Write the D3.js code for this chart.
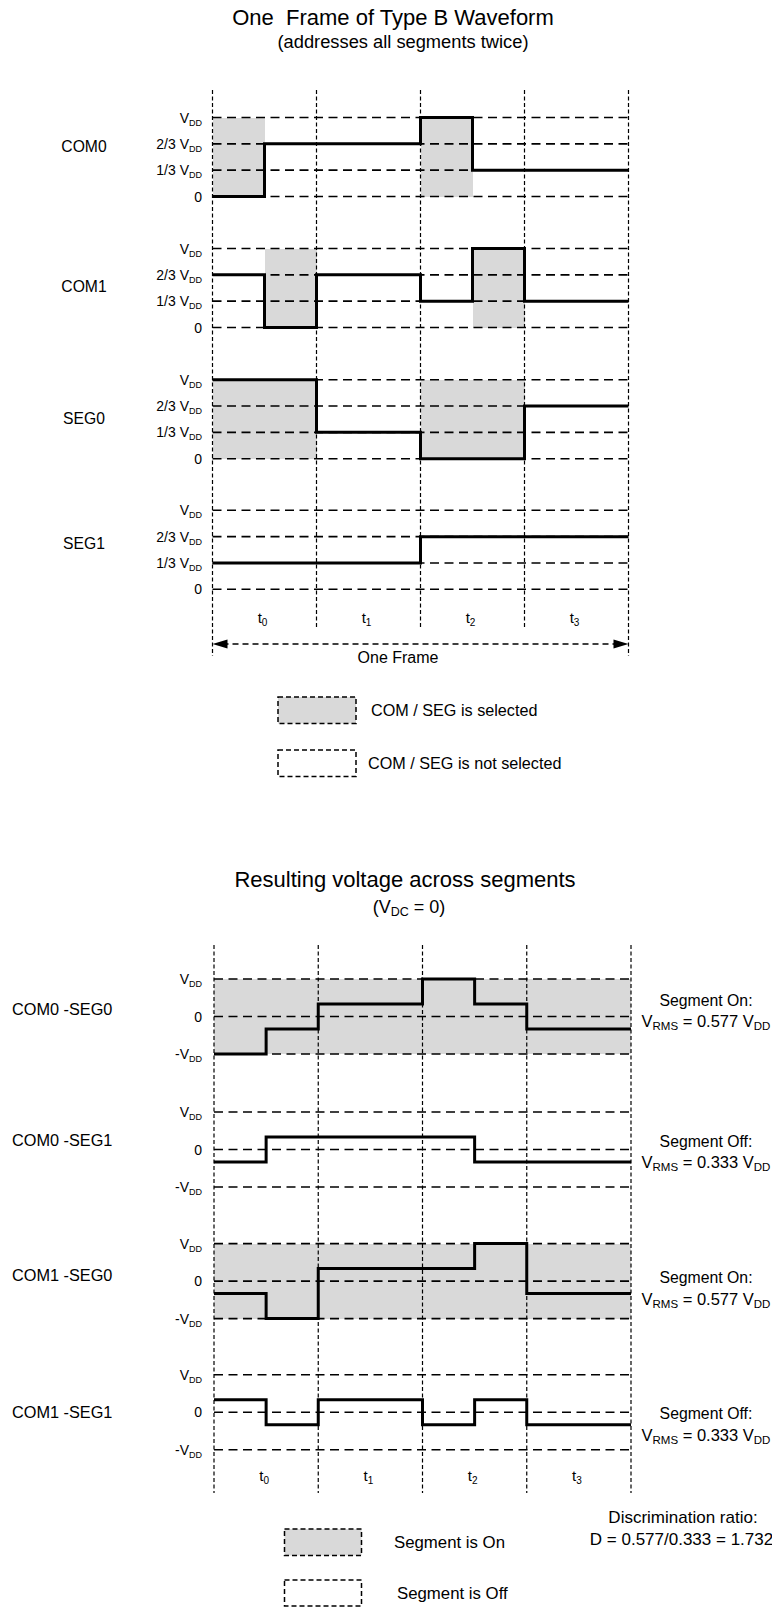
<!DOCTYPE html>
<html><head><meta charset="utf-8">
<script src="https://cdn.jsdelivr.net/npm/d3@7"></script>
<style>
body{margin:0;background:#fff}
svg{display:block}
text{font-family:Arial,"Liberation Sans",sans-serif;fill:#000;white-space:pre}
</style>
</head><body>
<svg id="chart" width="772" height="1608"></svg>
<script>
// ---------- DATA ----------
const timeSlots = ["0", "1", "2", "3"];            // t subscripts
const halfSlots = [0, 1, 2, 3, 4, 5, 6, 7];          // two halves per time slot

const topSignals = ["COM0", "COM1", "SEG0", "SEG1"];
const com0 = [0, 2/3, 2/3, 2/3, 1, 1/3, 1/3, 1/3];
const com1 = [2/3, 0, 2/3, 2/3, 1/3, 1, 1/3, 1/3];
const seg0 = [1, 1, 1/3, 1/3, 0, 0, 2/3, 2/3];
const seg1 = [1/3, 1/3, 1/3, 1/3, 2/3, 2/3, 2/3, 2/3];
const com0Selected = [1, 0, 0, 0, 1, 0, 0, 0];
const com1Selected = [0, 1, 0, 0, 0, 1, 0, 0];
const seg0Selected = [1, 1, 0, 0, 1, 1, 0, 0];
const seg1Selected = [0, 0, 0, 0, 0, 0, 0, 0];
const topLevels = [0, 1/3, 2/3, 1];
const topLevelLabels = [["0", ""], ["1/3 V", "DD"], ["2/3 V", "DD"], ["V", "DD"]];

const bottomSignals = ["COM0 -SEG0", "COM0 -SEG1", "COM1 -SEG0", "COM1 -SEG1"];
const com0seg0 = [-1, -1/3, 1/3, 1/3, 1, 1/3, -1/3, -1/3];
const com0seg1 = [-1/3, 1/3, 1/3, 1/3, 1/3, -1/3, -1/3, -1/3];
const com1seg0 = [-1/3, -1, 1/3, 1/3, 1/3, 1, -1/3, -1/3];
const com1seg1 = [1/3, -1/3, 1/3, 1/3, -1/3, 1/3, -1/3, -1/3];
const segmentOn = [true, false, true, false];
const segmentStates = ["Segment On:", "Segment Off:", "Segment On:", "Segment Off:"];
const rmsValues = ["0.577", "0.333", "0.577", "0.333"];
const bottomLevels = [-1, 0, 1];
const bottomLevelLabels = [["-V", "DD"], ["0", ""], ["V", "DD"]];

// ---------- LAYOUT ----------
const svg = d3.select("#chart");
const SHADE = "#d9d9d9";

const xTop = d3.scaleLinear().domain([0, 8]).range([212.5, 628.5]);
const xBot = d3.scaleLinear().domain([0, 8]).range([214, 631]);

const topVddY = [117.5, 248.5, 379.7, 510.3];
const topSpan = 79;
const topLabelOffset = [29, 38, 39, 33];
const botVddY = [979, 1112, 1243.6, 1374.8];
const botSpan = 75;
const botLabelOffset = [35.5, 33.5, 37.5, 43.5];

function sub(textSel, main, subtxt, mainSize, subSize) {
  textSel.append("tspan").attr("font-size", mainSize).text(main);
  if (subtxt) textSel.append("tspan").attr("font-size", subSize).attr("dy", 3).text(subtxt);
}

function vLines(x, y0, y1inner, y1outer) {
  const g = svg.append("g");
  [0, 2, 4, 6, 8].forEach(d => {
    const outer = d === 0 || d === 8;
    g.append("line").attr("x1", x(d)).attr("x2", x(d))
      .attr("y1", y0).attr("y2", outer ? y1outer : y1inner)
      .attr("stroke", "#000").attr("stroke-width", 1.2)
      .attr("stroke-dasharray", "4,2.5");
  });
}

function drawShade(x, y, selMask, fullShade, levels) {
  const g = svg.append("g").attr("shape-rendering", "crispEdges");
  if (fullShade) {
    g.append("rect").attr("x", x(0)).attr("width", x(8) - x(0))
      .attr("y", y(d3.max(levels))).attr("height", y(d3.min(levels)) - y(d3.max(levels)))
      .attr("fill", SHADE);
  } else if (selMask) {
    g.selectAll("rect").data(halfSlots.filter(i => selMask[i])).join("rect")
      .attr("x", i => x(i)).attr("width", i => x(i + 1) - x(i) + 0.5)
      .attr("y", y(1)).attr("height", y(0) - y(1)).attr("fill", SHADE);
  }
}

function drawLevels(g, x, y, levels, labels) {
  levels.forEach((lv, k) => {
    g.append("line").attr("x1", x(0)).attr("x2", x(8))
      .attr("y1", y(lv)).attr("y2", y(lv))
      .attr("stroke", "#000").attr("stroke-width", 1.6)
      .attr("stroke-dasharray", "9,5.5");
    const t = g.append("text").attr("x", 202).attr("y", y(lv) + 5).attr("text-anchor", "end");
    sub(t, labels[k][0], labels[k][1], 14, 9);
  });
}

function drawWave(g, x, y, values) {
  const pts = halfSlots.map(i => [i, values[i]]).concat([[8, values[7]]]);
  const line = d3.line().x(d => x(d[0])).y(d => y(d[1])).curve(d3.curveStepAfter);
  g.append("path").attr("d", line(pts)).attr("fill", "none")
    .attr("stroke", "#000").attr("stroke-width", 3).attr("stroke-linejoin", "miter");
}

// ---------- TOP SECTION ----------
svg.append("text").attr("x", 393).attr("y", 25).attr("text-anchor", "middle")
  .attr("font-size", 22).text("One  Frame of Type B Waveform");
svg.append("text").attr("x", 403).attr("y", 48).attr("text-anchor", "middle")
  .attr("font-size", 18.3).text("(addresses all segments twice)");

const topValues = [com0, com1, seg0, seg1];
const topSel = [com0Selected, com1Selected, seg0Selected, seg1Selected];
const topScales = topSignals.map((name, i) => {
  const y = d3.scaleLinear().domain([0, 1]).range([topVddY[i] + topSpan, topVddY[i]]);
  drawShade(xTop, y, topSel[i], false, topLevels);
  svg.append("text").attr("x", 84).attr("y", topVddY[i] + topLabelOffset[i] + 5.5)
    .attr("text-anchor", "middle").attr("font-size", 15.7).text(name);
  return y;
});
vLines(xTop, 90, 628, 656);
topScales.forEach((y, i) => {
  const g2 = svg.append("g");
  drawLevels(g2, xTop, y, topLevels, topLevelLabels);
  drawWave(g2, xTop, y, topValues[i]);
});

// time slot labels (top)
timeSlots.forEach((s, k) => {
  const t = svg.append("text").attr("x", xTop(2 * k + 1) - 2).attr("y", 623).attr("text-anchor", "middle");
  sub(t, "t", s, 15, 10);
});

// one frame arrow
{
  const ay = 644, x0 = xTop(0), x1 = xTop(8);
  svg.append("line").attr("x1", x0 + 10).attr("x2", x1 - 10).attr("y1", ay).attr("y2", ay)
    .attr("stroke", "#000").attr("stroke-width", 1.6).attr("stroke-dasharray", "6,4");
  svg.append("path").attr("d", `M${x0},${ay}L${x0 + 15},${ay - 4.5}L${x0 + 15},${ay + 4.5}Z`).attr("fill", "#000");
  svg.append("path").attr("d", `M${x1},${ay}L${x1 - 15},${ay - 4.5}L${x1 - 15},${ay + 4.5}Z`).attr("fill", "#000");
  svg.append("text").attr("x", 398).attr("y", 663).attr("text-anchor", "middle")
    .attr("font-size", 16).text("One Frame");
}

// legends
function legendBox(x, y, w, h, filled, label, tx, fs) {
  svg.append("rect").attr("x", x).attr("y", y).attr("width", w).attr("height", h)
    .attr("fill", filled ? SHADE : "#fff").attr("stroke", "#000")
    .attr("stroke-width", 1.5).attr("stroke-dasharray", "5,3");
  svg.append("text").attr("x", tx).attr("y", y + h / 2 + 5.5).attr("font-size", fs).text(label);
}
legendBox(278, 697, 78, 26.5, true, "COM / SEG is selected", 371, 16.2);
legendBox(278, 750, 78, 26.5, false, "COM / SEG is not selected", 368, 16.2);

// ---------- BOTTOM SECTION ----------
svg.append("text").attr("x", 405).attr("y", 887).attr("text-anchor", "middle")
  .attr("font-size", 22).text("Resulting voltage across segments");
{
  const t = svg.append("text").attr("x", 409).attr("y", 913).attr("text-anchor", "middle");
  t.append("tspan").attr("font-size", 18).text("(V");
  t.append("tspan").attr("font-size", 12.5).attr("dy", 3).text("DC");
  t.append("tspan").attr("font-size", 18).attr("dy", -3).text(" = 0)");
}

const botValues = [com0seg0, com0seg1, com1seg0, com1seg1];
const botScales = bottomSignals.map((name, i) => {
  const y = d3.scaleLinear().domain([-1, 1]).range([botVddY[i] + botSpan, botVddY[i]]);
  drawShade(xBot, y, null, segmentOn[i], bottomLevels);
  svg.append("text").attr("x", 12).attr("y", botVddY[i] + botLabelOffset[i]).attr("font-size", 16.3).text(name);
  return y;
});
vLines(xBot, 945, 1493, 1493);
botScales.forEach((y, i) => {
  const g2 = svg.append("g");
  drawLevels(g2, xBot, y, bottomLevels, bottomLevelLabels);
  drawWave(g2, xBot, y, botValues[i]);
});

const rightOffsets = [21, 29, 34, 39];
bottomSignals.forEach((name, i) => {
  const yc = botVddY[i] + rightOffsets[i];
  svg.append("text").attr("x", 706).attr("y", yc + 5.5).attr("text-anchor", "middle")
    .attr("font-size", 15.8).text(segmentStates[i]);
  const t = svg.append("text").attr("x", 706).attr("y", yc + 27).attr("text-anchor", "middle");
  t.append("tspan").attr("font-size", 16.5).text("V");
  t.append("tspan").attr("font-size", 11.5).attr("dy", 3).text("RMS");
  t.append("tspan").attr("font-size", 16.5).attr("dy", -3).text(" = " + rmsValues[i] + " V");
  t.append("tspan").attr("font-size", 11.5).attr("dy", 3).text("DD");
});

timeSlots.forEach((s, k) => {
  const t = svg.append("text").attr("x", xBot(2 * k + 1) - 2).attr("y", 1481).attr("text-anchor", "middle");
  sub(t, "t", s, 15, 10);
});

legendBox(284.5, 1529, 77, 26.5, true, "Segment is On", 394, 16.8);
legendBox(284.5, 1580, 77, 26, false, "Segment is Off", 397, 16.8);

svg.append("text").attr("x", 683).attr("y", 1522.5).attr("text-anchor", "middle")
  .attr("font-size", 17).text("Discrimination ratio:");
svg.append("text").attr("x", 681.5).attr("y", 1544.5).attr("text-anchor", "middle")
  .attr("font-size", 17).text("D = 0.577/0.333 = 1.732");
</script>
</body></html>
